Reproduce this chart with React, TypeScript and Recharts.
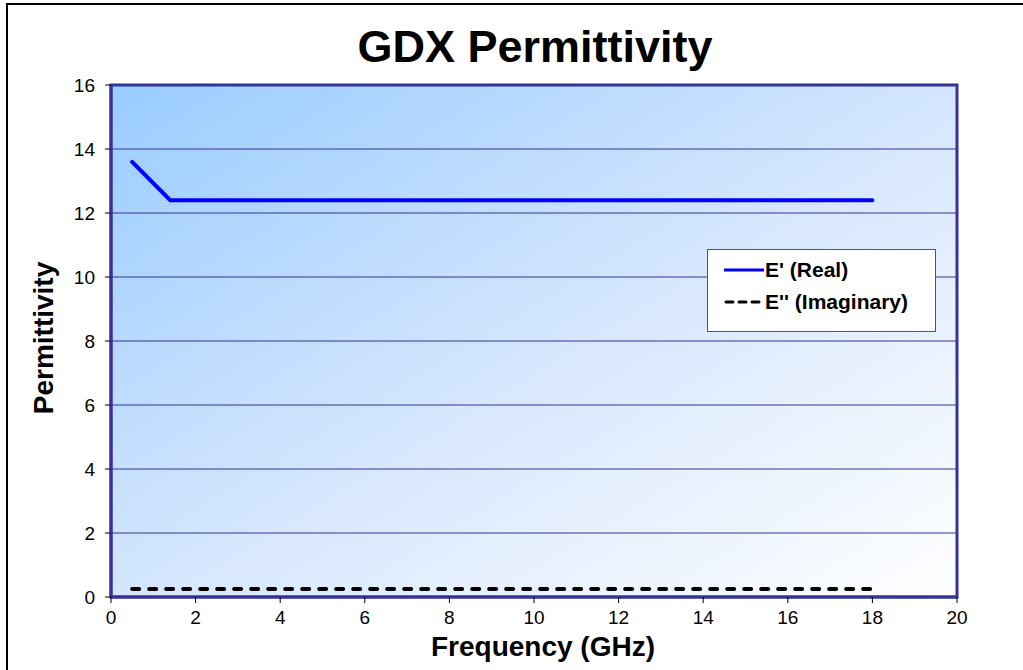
import React from "react";
import {
  LineChart,
  Line,
  XAxis,
  YAxis,
  CartesianGrid,
  ReferenceArea,
} from "recharts";

// frequency in GHz
const frequencies = [0.5, 1.4, 2, 4, 6, 8, 10, 12, 14, 16, 18];
const realValues = [13.6, 12.4, 12.4, 12.4, 12.4, 12.4, 12.4, 12.4, 12.4, 12.4, 12.4];
const imagValues = [0.25, 0.25, 0.25, 0.25, 0.25, 0.25, 0.25, 0.25, 0.25, 0.25, 0.25];
const xTicks = [0, 2, 4, 6, 8, 10, 12, 14, 16, 18, 20];
const yTicks = [0, 2, 4, 6, 8, 10, 12, 14, 16];

const font = "Arial, 'Liberation Sans', sans-serif";
const navy = "#333399";

const data = frequencies.map((f, i) => ({
  freq: f,
  real: realValues[i],
  imag: imagValues[i],
}));

const XTick = ({ x, y, payload }: any) => (
  <text x={x} y={y + 21} textAnchor="middle" fontFamily={font} fontSize={19} fill="#000">
    {payload.value}
  </text>
);

const YTick = ({ x, y, payload }: any) => (
  <text x={x} y={y + 7} textAnchor="end" fontFamily={font} fontSize={19} fill="#000">
    {payload.value}
  </text>
);

const LegendBox = () => (
  <div
    style={{
      position: "absolute",
      left: 707,
      top: 249,
      width: 229,
      height: 83,
      background: "#fff",
      border: "1px solid #555",
      fontFamily: font,
      fontWeight: "bold",
      fontSize: 21,
      color: "#000",
      boxSizing: "border-box",
    }}
  >
    <div style={{ display: "flex", alignItems: "center", height: 40, paddingLeft: 16 }}>
      <svg width={40} height={6}>
        <line x1={0} y1={3} x2={40} y2={3} stroke="#0000ff" strokeWidth={3} />
      </svg>
      <span style={{ marginLeft: 1 }}>E' (Real)</span>
    </div>
    <div style={{ display: "flex", alignItems: "center", height: 24, paddingLeft: 16 }}>
      <svg width={40} height={6}>
        <line
          x1={2}
          y1={3}
          x2={40}
          y2={3}
          stroke="#000"
          strokeWidth={3}
          strokeDasharray="7 6"
          strokeLinecap="round"
        />
      </svg>
      <span style={{ marginLeft: 1 }}>E'' (Imaginary)</span>
    </div>
  </div>
);

export default function App() {
  return (
    <div
      style={{
        position: "absolute",
        left: 0,
        top: 0,
        width: 1023,
        height: 670,
        background: "#fff",
        overflow: "hidden",
      }}
    >
      <div
        style={{
          position: "absolute",
          left: 6,
          top: 3,
          width: 1030,
          height: 700,
          borderLeft: "2px solid #000",
          borderTop: "2px solid #000",
        }}
      />
      <div
        style={{
          position: "absolute",
          left: 0,
          top: 20,
          width: 1070,
          textAlign: "center",
          fontFamily: font,
          fontWeight: "bold",
          fontSize: 45,
          lineHeight: "54px",
        }}
      >
        GDX Permittivity
      </div>
      <div
        style={{
          position: "absolute",
          left: 0,
          top: 630,
          width: 1086,
          textAlign: "center",
          fontFamily: font,
          fontWeight: "bold",
          fontSize: 28,
          lineHeight: "34px",
        }}
      >
        Frequency (GHz)
      </div>
      <div
        style={{
          position: "absolute",
          left: 44,
          top: 338,
          transform: "translate(-50%, -50%) rotate(-90deg)",
          fontFamily: font,
          fontWeight: "bold",
          fontSize: 28,
          whiteSpace: "nowrap",
        }}
      >
        Permittivity
      </div>
      <div style={{ position: "absolute", left: 0, top: 0 }}>
        <LineChart
          width={1023}
          height={670}
          data={data}
          margin={{ top: 85, right: 66, bottom: 33, left: 61 }}
        >
          <defs>
            <linearGradient id="plotBg" x1="0" y1="0" x2="1" y2="1">
              <stop offset="0%" stopColor="#99ccff" />
              <stop offset="55%" stopColor="#d9e8fe" />
              <stop offset="100%" stopColor="#ffffff" />
            </linearGradient>
          </defs>
          <CartesianGrid
            vertical={false}
            stroke={navy}
            strokeWidth={1}
            fill="url(#plotBg)"
            fillOpacity={1}
            syncWithTicks
          />
          <XAxis
            type="number"
            dataKey="freq"
            domain={[0, 20]}
            ticks={xTicks}
            interval={0}
            height={40}
            tickSize={6}
            tickMargin={0}
            axisLine={{ stroke: navy, strokeWidth: 3 }}
            tickLine={{ stroke: "#000" }}
            tick={<XTick />}
          />
          <YAxis
            type="number"
            domain={[0, 16]}
            ticks={yTicks}
            interval={0}
            width={50}
            tickSize={6}
            tickMargin={10}
            axisLine={{ stroke: navy, strokeWidth: 3 }}
            tickLine={{ stroke: "#000" }}
            tick={<YTick />}
          />
          <ReferenceArea
            x1={0}
            x2={20}
            y1={0}
            y2={16}
            fill="none"
            stroke={navy}
            strokeWidth={3}
          />
          <Line
            type="linear"
            dataKey="real"
            stroke="#0000ff"
            strokeWidth={4}
            dot={false}
            strokeLinecap="round"
            isAnimationActive={false}
          />
          <Line
            type="linear"
            dataKey="imag"
            stroke="#000"
            strokeWidth={4}
            strokeDasharray="7 10"
            strokeLinecap="round"
            dot={false}
            isAnimationActive={false}
          />
        </LineChart>
      </div>
      <LegendBox />
    </div>
  );
}
